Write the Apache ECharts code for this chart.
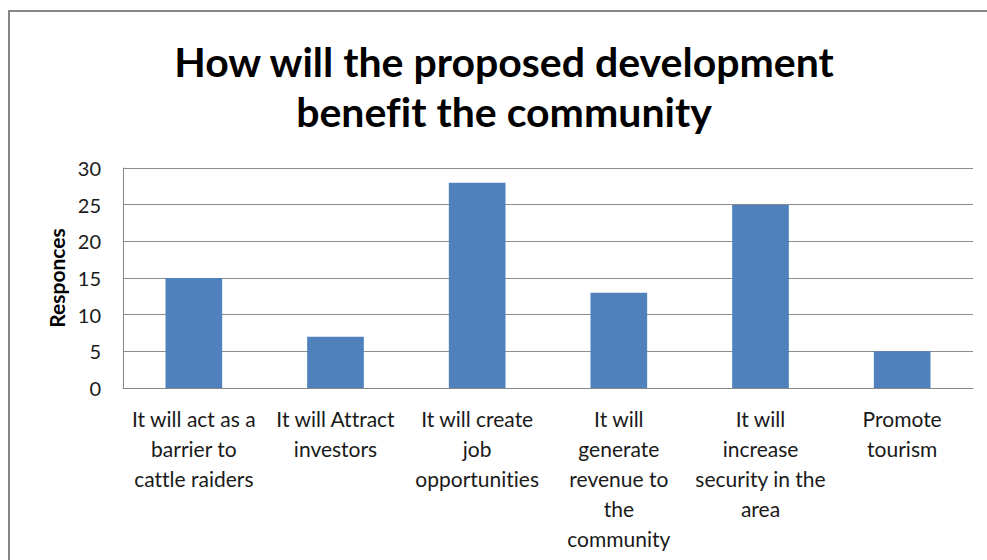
<!DOCTYPE html>
<html>
<head>
<meta charset="utf-8">
<script src="https://cdn.jsdelivr.net/npm/echarts@6/dist/echarts.min.js"></script>
<style>
  html, body { margin: 0; padding: 0; background: #ffffff; }
  #chart { width: 987px; height: 560px; }
  /* plain letterforms, no "tt"/"ti" ligatures */
  #chart text { font-variant-ligatures: none; }
</style>
</head>
<body>
<div id="chart"></div>
<script>
// Survey answers: how the proposed development would benefit the community
const categories = [
  'It will act as a\nbarrier to\ncattle raiders',
  'It will Attract\ninvestors',
  'It will create\njob\nopportunities',
  'It will\ngenerate\nrevenue to\nthe\ncommunity',
  'It will\nincrease\nsecurity in the\narea',
  'Promote\ntourism'
];
const responses = [15, 7, 28, 13, 25, 5];
const yTicks = { min: 0, max: 30, interval: 5 };

const chart = echarts.init(document.getElementById('chart'), null, { renderer: 'svg' });
const fontFamily = 'Lato, "Open Sans", sans-serif';

chart.setOption({
  animation: false,
  backgroundColor: '#ffffff',
  title: {
    text: 'How will the proposed development\nbenefit the community',
    left: 499,
    top: 31,
    textAlign: 'center',
    textStyle: {
      fontFamily: fontFamily,
      fontWeight: 'bold',
      fontSize: 41,
      lineHeight: 50,
      color: '#000000'
    }
  },
  graphic: [{
    type: 'rect',
    shape: { x: 9, y: 11, width: 1000, height: 600 },
    style: { fill: 'none', stroke: '#868686', lineWidth: 2 },
    silent: true
  }],
  grid: { left: 123, right: 14, top: 168, bottom: 172 },
  xAxis: {
    type: 'category',
    data: categories,
    axisLine: { show: true, lineStyle: { color: '#868686', width: 1 } },
    axisTick: { show: false },
    axisLabel: {
      interval: 0,
      margin: 15,
      fontFamily: fontFamily,
      fontSize: 21,
      lineHeight: 30,
      color: '#1a1a1a'
    }
  },
  yAxis: {
    type: 'value',
    min: yTicks.min,
    max: yTicks.max,
    interval: yTicks.interval,
    name: 'Responces',
    nameLocation: 'middle',
    nameGap: 56,
    nameTextStyle: {
      fontFamily: fontFamily,
      fontWeight: 'bold',
      fontSize: 21,
      color: '#000000'
    },
    axisLine: { show: true, lineStyle: { color: '#868686', width: 1 } },
    axisTick: { show: false },
    axisLabel: {
      margin: 22,
      fontFamily: fontFamily,
      fontSize: 20,
      color: '#1a1a1a'
    },
    splitLine: { show: true, lineStyle: { color: '#8c8c8c', width: 1 } }
  },
  series: [{
    type: 'bar',
    data: responses,
    barWidth: '40%',
    itemStyle: { color: '#4f81bd' }
  }]
});
</script>
</body>
</html>
